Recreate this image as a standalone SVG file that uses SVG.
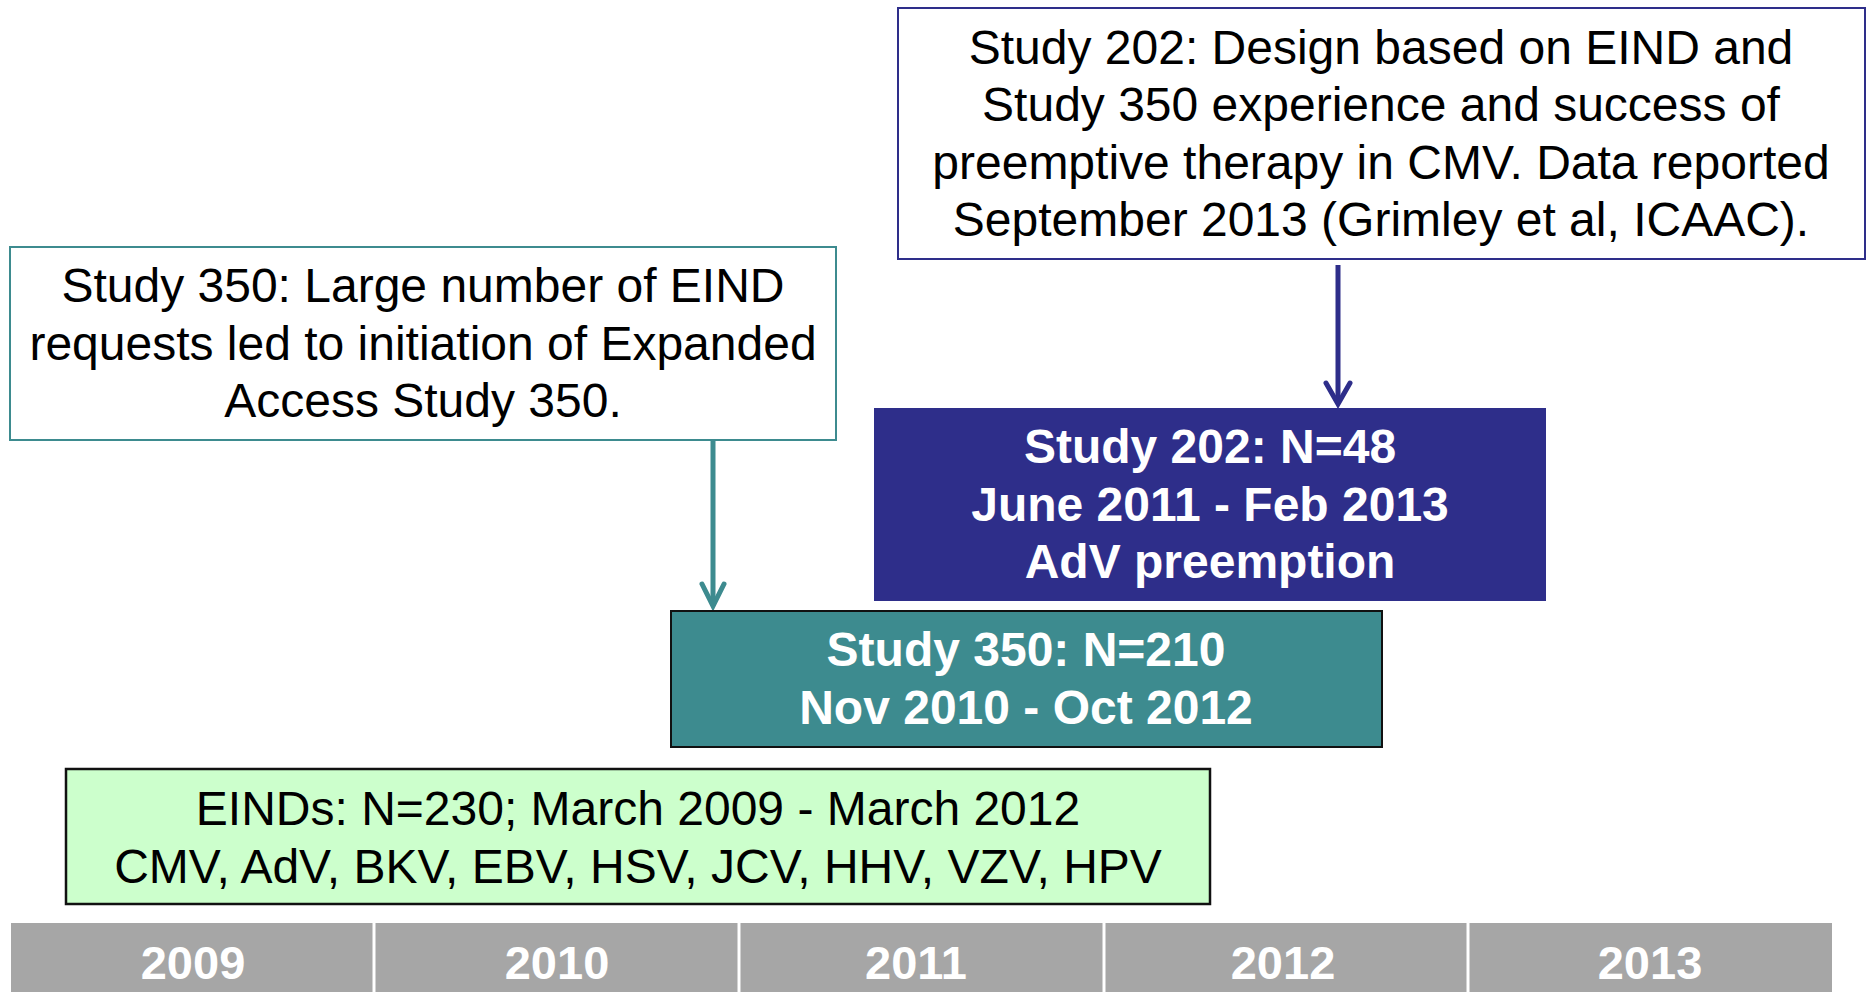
<svg xmlns="http://www.w3.org/2000/svg" width="1870" height="992" viewBox="0 0 1870 992">
<style>
.t{font-family:"Liberation Sans",Arial,sans-serif;font-size:48px;fill:#000;text-anchor:middle}
.b{font-family:"Liberation Sans",Arial,sans-serif;font-size:48px;font-weight:bold;fill:#fff;text-anchor:middle}
.y{font-family:"Liberation Sans",Arial,sans-serif;font-size:47px;font-weight:bold;fill:#fff;text-anchor:middle}
</style>
<defs>
<marker id="ahTeal" viewBox="0 0 30 30" refX="26" refY="15" markerWidth="30" markerHeight="30" markerUnits="userSpaceOnUse" orient="auto">
<path d="M4,4 L26,15 L4,26" fill="none" stroke="#3d8b8f" stroke-width="5" stroke-linecap="round" stroke-linejoin="miter"/>
</marker>
<marker id="ahNavy" viewBox="0 0 30 30" refX="26" refY="15" markerWidth="30" markerHeight="30" markerUnits="userSpaceOnUse" orient="auto">
<path d="M5,3 L26,15 L5,27" fill="none" stroke="#2e2e8a" stroke-width="5" stroke-linecap="round" stroke-linejoin="miter"/>
</marker>
</defs>
<rect width="1870" height="992" fill="#fff"/>
<g id="timeline">
<rect x="11" y="923" width="1821" height="69" fill="#a6a6a6"/>
<g stroke="#fff" stroke-width="3">
<line x1="374" y1="923" x2="374" y2="992"/>
<line x1="739" y1="923" x2="739" y2="992"/>
<line x1="1104" y1="923" x2="1104" y2="992"/>
<line x1="1468" y1="923" x2="1468" y2="992"/>
</g>
<text class="y" x="193" y="979">2009</text>
<text class="y" x="557" y="979">2010</text>
<text class="y" x="916" y="979">2011</text>
<text class="y" x="1283" y="979">2012</text>
<text class="y" x="1650" y="979">2013</text>
</g>
<g id="note350">
<rect x="10" y="247" width="826" height="193" fill="#fff" stroke="#3d8b8f" stroke-width="2"/>
<text class="t" x="423" y="302">Study 350: Large number of EIND</text>
<text class="t" x="423" y="360">requests led to initiation of Expanded</text>
<text class="t" x="423" y="417">Access Study 350.</text>
</g>
<g id="note202">
<rect x="898" y="8" width="967" height="251" fill="#fff" stroke="#2e2e8a" stroke-width="2"/>
<text class="t" x="1381" y="64">Study 202: Design based on EIND and</text>
<text class="t" x="1381" y="121">Study 350 experience and success of</text>
<text class="t" x="1381" y="179">preemptive therapy in CMV. Data reported</text>
<text class="t" x="1381" y="236">September 2013 (Grimley et al, ICAAC).</text>
</g>
<g id="study202">
<rect x="874" y="408" width="672" height="193" fill="#2e2e8a"/>
<text class="b" x="1210" y="463">Study 202: N=48</text>
<text class="b" x="1210" y="521">June 2011 - Feb 2013</text>
<text class="b" x="1210" y="578">AdV preemption</text>
</g>
<g id="study350">
<rect x="671" y="611" width="711" height="136" fill="#3d8b8f" stroke="#111" stroke-width="2"/>
<text class="b" x="1026" y="666">Study 350: N=210</text>
<text class="b" x="1026" y="724">Nov 2010 - Oct 2012</text>
</g>
<g id="einds">
<rect x="66" y="769" width="1144" height="135" fill="#ccffcc" stroke="#111" stroke-width="2.5"/>
<text class="t" x="638" y="825">EINDs: N=230; March 2009 - March 2012</text>
<text class="t" x="638" y="883">CMV, AdV, BKV, EBV, HSV, JCV, HHV, VZV, HPV</text>
</g>
<g id="connectors" fill="none" stroke-width="5">
<line x1="713" y1="440" x2="713" y2="606" stroke="#3d8b8f" marker-end="url(#ahTeal)"/>
<line x1="1338" y1="265" x2="1338" y2="404" stroke="#2e2e8a" marker-end="url(#ahNavy)"/>
</g>
</svg>
